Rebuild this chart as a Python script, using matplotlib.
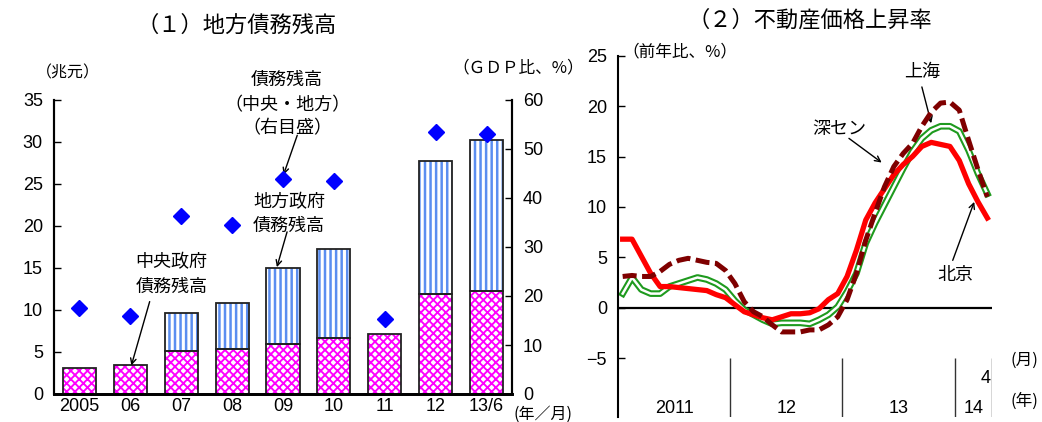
import numpy as np
import matplotlib
matplotlib.use('Agg')
import matplotlib.pyplot as plt

plt.rcParams['font.family'] = ['Noto Sans CJK JP', 'DejaVu Sans']
plt.rcParams['axes.unicode_minus'] = True

NUM_FONT = ['Liberation Sans Narrow', 'Liberation Sans', 'DejaVu Sans']

# (1) debt outstanding (trillion yuan) and ratio to GDP (%)
years = ['2005', '06', '07', '08', '09', '10', '11', '12', '13/6']
central_debt = [3.1, 3.4, 5.1, 5.3, 5.9, 6.7, 7.2, 11.9, 12.3]
local_debt = [0.0, 0.0, 4.6, 5.5, 9.1, 10.6, 0.0, 15.8, 17.9]
debt_gdp = [17.6, 15.9, 36.4, 34.4, 43.9, 43.4, 15.3, 53.4, 53.1]

# (2) house prices, yoy %, monthly 2011/1 - 2014/4
beijing = [6.8, 6.8, 5.1, 3.4, 2.1, 2.1, 2.0, 1.9, 1.8, 1.7,
           1.3, 1.0, 0.3, -0.4, -0.7, -1.0, -1.2, -0.9, -0.6, -0.6,
           -0.5, -0.1, 0.8, 1.4, 3.1, 5.7, 8.7, 10.4, 11.8, 13.2,
           14.2, 15.0, 16.0, 16.4, 16.2, 16.0, 14.6, 12.3, 10.5, 8.9]
shenzhen = [3.1, 3.2, 3.1, 3.1, 3.6, 4.3, 4.7, 4.9, 4.7, 4.5,
            4.4, 3.7, 2.4, 0.6, -0.4, -0.9, -1.7, -2.4, -2.4, -2.4,
            -2.2, -2.2, -1.7, -0.9, 0.8, 3.4, 6.7, 9.4, 12.0, 14.0,
            15.3, 16.3, 18.0, 19.4, 20.3, 20.4, 19.6, 16.6, 13.7, 11.0]
shanghai = [1.4, 3.0, 1.8, 1.4, 1.4, 2.1, 2.4, 2.7, 3.0, 2.8,
            2.4, 1.8, 0.7, -0.2, -0.7, -1.2, -1.6, -1.5, -1.5, -1.5,
            -1.6, -1.2, -0.7, 0.1, 1.6, 3.4, 6.4, 8.4, 10.2, 12.0,
            13.8, 15.5, 16.8, 17.6, 18.0, 18.0, 17.5, 15.6, 13.3, 11.3]
year_labels = ['2011', '12', '13', '14']
year_centers = [6, 18, 30, 38]
year_edges = [12, 24, 36, 40]

W, H = 1042, 422
fig = plt.figure(figsize=(W / 100, H / 100), dpi=100)


def fx(px):
    return px / W


def fy(py):
    return 1 - py / H


# ---------------- (1) ----------------
ax1 = fig.add_axes([fx(54), fy(394), fx(512 - 54), (394 - 100) / H])
x = np.arange(len(years))
bw = 0.65
with plt.rc_context({'hatch.linewidth': 1.35}):
    ax1.bar(x, central_debt, bw, color='white', edgecolor='#FF00FF', hatch='xxxx', linewidth=0, zorder=2)
ax1.bar(x, central_debt, bw, fill=False, edgecolor='#222222', linewidth=1.3, zorder=3)
lx = [i for i in x if local_debt[i] > 0]
lh = [local_debt[i] for i in lx]
lb = [central_debt[i] for i in lx]
with plt.rc_context({'hatch.linewidth': 1.8}):
    ax1.bar(lx, lh, bw, bottom=lb, color='white', edgecolor='#5B8EF0', hatch='|||', linewidth=0, zorder=2)
ax1.bar(lx, lh, bw, bottom=lb, fill=False, edgecolor='#222222', linewidth=1.3, zorder=3)

ax1.set_xlim(-0.5, len(years) - 0.5)
ax1.set_ylim(0, 35)
ax1.set_yticks(np.arange(0, 36, 5), [str(v) for v in range(0, 36, 5)], fontfamily=NUM_FONT, fontsize=13)
ax1.set_xticks(x, years, fontfamily=NUM_FONT, fontsize=13)
ax1.tick_params(axis='y', direction='in', length=5, width=1, pad=8)
ax1.tick_params(axis='x', length=0, pad=3)

ax2 = ax1.twinx()
ax2.plot(x, debt_gdp, linestyle='none', marker='D', markersize=8.5, color='#0000FF', zorder=4)
ax2.set_ylim(0, 60)
ax2.set_yticks(np.arange(0, 61, 10), [str(v) for v in range(0, 61, 10)], fontfamily=NUM_FONT, fontsize=13)
ax2.tick_params(axis='y', direction='in', length=5, width=1, pad=8)

for a in (ax1, ax2):
    a.spines['top'].set_visible(False)
    a.spines['left'].set_linewidth(1.5)
    a.spines['right'].set_linewidth(1.5)
    a.spines['bottom'].set_linewidth(2)

arrow = dict(arrowstyle='->', color='black', lw=1, shrinkA=0, shrinkB=0)
lab = dict(ha='center', va='center', fontsize=13)
ax1.text(4.08, 37.4, '債務残高', **lab)
ax1.text(4.08, 34.4, '（中央・地方）', **lab)
ax1.text(4.08, 31.6, '（右目盛）', **lab)
ax1.annotate('', xy=(4.01, 26.1), xytext=(4.28, 30.8), arrowprops=arrow)
ax1.text(4.12, 22.8, '地方政府', **lab)
ax1.text(4.12, 20.0, '債務残高', **lab)
ax1.annotate('', xy=(3.88, 15.1), xytext=(4.08, 19.3), arrowprops=arrow)
ax1.text(1.81, 15.7, '中央政府', **lab)
ax1.text(1.81, 12.8, '債務残高', **lab)
ax1.annotate('', xy=(1.02, 3.4), xytext=(1.38, 11.0), arrowprops=arrow)

fig.text(fx(237), fy(25), '（１）地方債務残高', ha='center', va='center', fontsize=16)
fig.text(fx(68), fy(73), '（兆元）', ha='center', va='center', fontsize=11.5)
fig.text(fx(452), fy(68), '（ＧＤＰ比、%）', ha='left', va='center', fontsize=12)
fig.text(fx(543), fy(414), '(年／月)', ha='center', va='center', fontsize=11.5)

# ---------------- (2) ----------------
ybot = -10.84
ax3 = fig.add_axes([fx(618), fy(417), fx(992 - 618), (417 - 55.7) / H])
t = np.arange(len(beijing)) + 0.5
ax3.axhline(0, color='black', lw=1.6, zorder=1)
ax3.plot(t, shanghai, color='#1E9A1E', lw=4.8, zorder=2)
ax3.plot(t, shanghai, color='white', lw=1.8, zorder=2.1)
ax3.plot(t, beijing, color='#FF0000', lw=3.8, zorder=3)
ax3.plot(t, shenzhen, color='#7F0000', lw=3.6, dashes=(2.8, 1.1), zorder=4)

ax3.set_xlim(0, len(beijing))
ax3.set_ylim(ybot, 25)
ax3.set_yticks(np.arange(-5, 26, 5), ['\u22125'] + [str(v) for v in range(0, 26, 5)],
               fontfamily=NUM_FONT, fontsize=13)
ax3.set_xticks([])
ax3.tick_params(axis='y', direction='in', length=5, width=1, pad=8)
for s in ('top', 'right', 'bottom'):
    ax3.spines[s].set_visible(False)
ax3.spines['left'].set_linewidth(1.5)
ax3.vlines(year_edges, ybot, -5, color='#333333', lw=1)
for c, s in zip(year_centers, year_labels):
    ax3.text(c, -9.95, s, ha='center', va='center', fontsize=13, fontfamily=NUM_FONT)
ax3.text(39.85, -7.0, '4', ha='right', va='center', fontsize=13, fontfamily=NUM_FONT)

ax3.text(32.5, 23.4, '上海', ha='center', va='center', fontsize=13)
ax3.annotate('', xy=(33.5, 18.3), xytext=(32.5, 21.9), arrowprops=arrow)
ax3.text(23.7, 17.7, '深セン', ha='center', va='center', fontsize=13)
ax3.annotate('', xy=(28.2, 14.4), xytext=(24.7, 16.8), arrowprops=arrow)
ax3.text(36.1, 3.2, '北京', ha='center', va='center', fontsize=13)
ax3.annotate('', xy=(38.1, 10.5), xytext=(35.8, 4.7), arrowprops=arrow)

fig.text(fx(810), fy(20), '（２）不動産価格上昇率', ha='center', va='center', fontsize=16)
fig.text(fx(622), fy(52), '（前年比、%）', ha='left', va='center', fontsize=12)
fig.text(fx(1024), fy(360), '(月)', ha='center', va='center', fontsize=12)
fig.text(fx(1024), fy(401), '(年)', ha='center', va='center', fontsize=12)

fig.savefig('out.png', dpi=100)
